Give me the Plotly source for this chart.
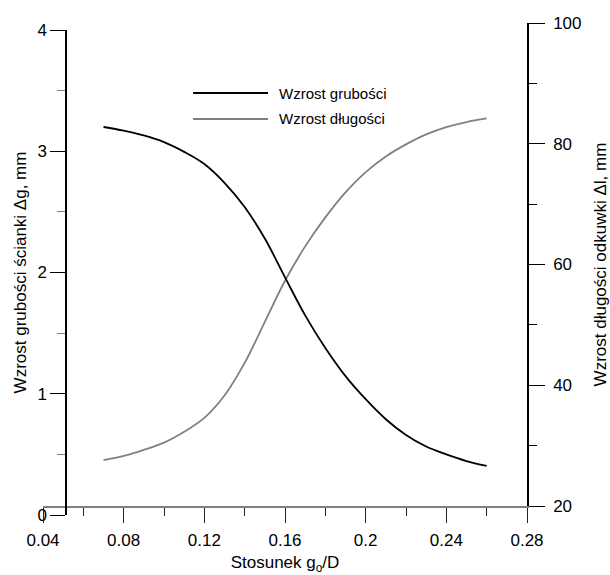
import plotly.graph_objects as go

# g0/D ratio
ratio = [0.07, 0.08, 0.09, 0.10, 0.11, 0.12, 0.13, 0.14, 0.15, 0.16,
         0.17, 0.18, 0.19, 0.20, 0.21, 0.22, 0.23, 0.24, 0.25, 0.26]
# wall thickness increase, mm (left axis)
thickness_gain = [3.20, 3.17, 3.13, 3.075, 2.995, 2.895, 2.74, 2.54, 2.28, 1.96,
                  1.646, 1.377, 1.145, 0.955, 0.79, 0.66, 0.565, 0.50, 0.445, 0.405]
# forging length increase, mm (right axis)
length_gain = [27.6, 28.3, 29.3, 30.5, 32.3, 34.6, 38.3, 43.7, 50.5, 57.3,
               63.0, 67.8, 71.95, 75.3, 77.9, 79.9, 81.55, 82.75, 83.6, 84.2]

x_range = [0.04, 0.28]
x_tickvals = [0.04, 0.08, 0.12, 0.16, 0.20, 0.24, 0.28]
x_ticktext = ["0.04", "0.08", "0.12", "0.16", "0.2", "0.24", "0.28"]
left_tickvals = [0, 1, 2, 3, 4]
right_tickvals = [20, 40, 60, 80, 100]

series_names = ["Wzrost grubości", "Wzrost długości"]

BLACK = "#000000"
GREY = "#808080"
FONT = "Liberation Sans, Arial, sans-serif"

# the left axis sits a little inside the x range; a hidden twin x axis
# starting at that point (same scale) carries it
PLOT_W = 484
LEFT_OFFSET = 24
x2_start = x_range[0] + (x_range[1] - x_range[0]) * LEFT_OFFSET / PLOT_W

fig = go.Figure()
fig.add_trace(go.Scatter(x=ratio, y=thickness_gain, mode="lines",
                         line=dict(color=BLACK, width=1.8, shape="spline",
                                   smoothing=1.0),
                         xaxis="x2", yaxis="y", name=series_names[0],
                         showlegend=False))
fig.add_trace(go.Scatter(x=ratio, y=length_gain, mode="lines",
                         line=dict(color=GREY, width=1.8, shape="spline",
                                   smoothing=1.0),
                         xaxis="x", yaxis="y2", name=series_names[1],
                         showlegend=False))

# hand-drawn legend: long line samples with labels
legend_rows = [(0.8577, BLACK), (0.8049, GREY)]
for (yy, col), label in zip(legend_rows, series_names):
    fig.add_shape(type="line", xref="paper", yref="paper",
                  x0=0.310, x1=0.465, y0=yy, y1=yy, layer="above",
                  line=dict(color=col, width=1.8))
    fig.add_annotation(xref="paper", yref="paper", x=0.4835, y=yy,
                       text=label, showarrow=False, xanchor="left",
                       yanchor="middle", font=dict(size=15, color=BLACK))

fig.update_layout(
    width=610, height=575, autosize=False,
    margin=dict(l=43, r=83, t=23, b=60, pad=0),
    paper_bgcolor="white", plot_bgcolor="rgba(0,0,0,0)",
    font=dict(family=FONT, size=17, color=BLACK),
    xaxis=dict(
        domain=[0, 1], range=x_range, anchor="y2", automargin=False,
        tickvals=x_tickvals, ticktext=x_ticktext,
        ticks="outside", ticklen=15, tickwidth=1, tickcolor="#222222",
        ticklabelstandoff=3,
        minor=dict(dtick=0.02, tick0=0.04, ticks="outside", ticklen=8,
                   tickwidth=1, tickcolor="#222222"),
        showline=True, linecolor=GREY, linewidth=2,
        showgrid=False, zeroline=False,
        title=dict(text="Stosunek g<sub>o</sub>/D", standoff=13,
                   font=dict(size=17)),
    ),
    xaxis2=dict(
        domain=[LEFT_OFFSET / PLOT_W, 1], range=[x2_start, x_range[1]],
        anchor="y", visible=False, showgrid=False, zeroline=False,
        automargin=False,
    ),
    yaxis=dict(
        domain=[0, 485 / 492], range=[0, 4], anchor="x2", side="left",
        automargin=False,
        tickvals=left_tickvals,
        ticks="outside", ticklen=15, tickwidth=1.2, tickcolor=BLACK,
        minor=dict(dtick=0.5, ticks="outside", ticklen=8, tickwidth=1,
                   tickcolor=GREY),
        showline=True, linecolor=BLACK, linewidth=1.5,
        showgrid=False, zeroline=False,
        title=dict(text="Wzrost grubości ścianki \u0394g, mm", standoff=6,
                   font=dict(size=17)),
    ),
    yaxis2=dict(
        domain=[9 / 492, 1], range=[20, 100], anchor="x", side="right",
        automargin=False,
        tickvals=right_tickvals,
        ticks="outside", ticklen=16, tickwidth=1.2, tickcolor=BLACK,
        ticklabelstandoff=5,
        minor=dict(dtick=10, ticks="outside", ticklen=8, tickwidth=1,
                   tickcolor=BLACK),
        showline=True, linecolor=BLACK, linewidth=1.5,
        showgrid=False, zeroline=False,
        title=dict(text="Wzrost długości odkuwki \u0394l, mm", standoff=14,
                   font=dict(size=17)),
    ),
)

fig.write_html("out.html")
